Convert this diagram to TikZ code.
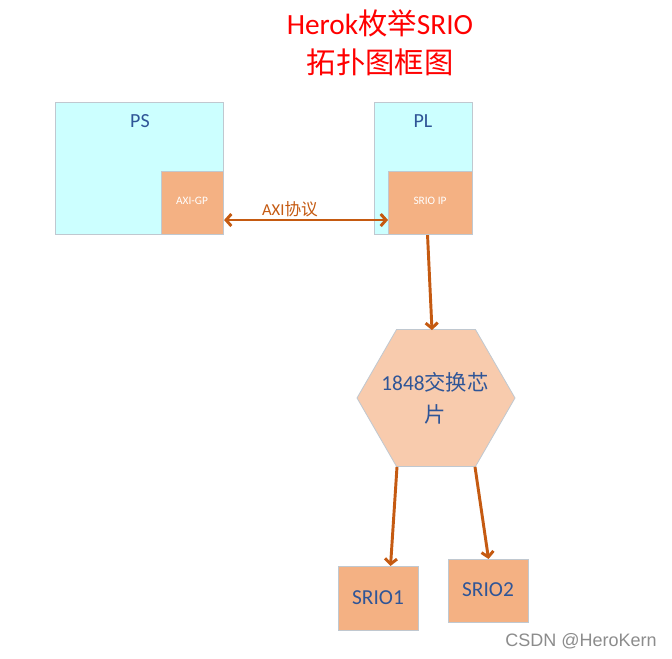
\documentclass[tikz,border=0pt]{standalone}
\usepackage{fontspec}
\setmainfont{Carlito}
\newfontfamily\cjk{Noto Sans CJK SC}
\newfontfamily\wm{Liberation Sans}
\usetikzlibrary{arrows.meta,calc,shapes.geometric}
\definecolor{cyanfill}{HTML}{CCFFFF}
\definecolor{orangefill}{HTML}{F4B183}
\definecolor{hexfill}{HTML}{F8CBAD}
\definecolor{txtblue}{HTML}{2F5597}
\definecolor{arrowc}{HTML}{C55A11}
\definecolor{boxline}{HTML}{C0C8D0}
\tikzset{
  outerbox/.style={draw=boxline, line width=0.8pt, fill=cyanfill, anchor=north west, inner sep=0pt},
  ipbox/.style={draw=boxline, line width=0.8pt, fill=orangefill, anchor=north west, inner sep=0pt},
  conn/.style={draw=arrowc, line width=2.2pt, -{Straight Barb[length=4pt,width=9pt,line width=2.2pt]}},
  bconn/.style={draw=arrowc, line width=2.2pt, {Straight Barb[length=4pt,width=9pt,line width=2.2pt]}-{Straight Barb[length=4pt,width=9pt,line width=2.2pt]}},
  bluetxt/.style={text=txtblue, inner sep=0pt},
}
\begin{document}
\begin{tikzpicture}[x=0.75pt,y=-0.75pt]
\useasboundingbox[fill=white] (0,0) rectangle (672,659);
% title
\node[text=red, inner sep=0pt, font=\fontsize{22}{26}\selectfont] (t1) at (380,23) {Herok{\cjk 枚举}SRIO};
\node[text=red, inner sep=0pt, font=\cjk\fontsize{22}{26}\selectfont] (t2) at (380,62) {拓扑图框图};
% PS
\node[outerbox, minimum width=126pt, minimum height=99pt] (ps) at (55,102) {};
\node[bluetxt, font=\fontsize{15}{18}\selectfont] (pslbl) at (140,121) {PS};
\node[ipbox, minimum width=46.5pt, minimum height=47.25pt] (axigp) at (161,171) {};
\node[text=white, inner sep=0pt, font=\fontsize{8.5}{10}\selectfont] (axilbl) at (192,201) {AXI-GP};
% PL
\node[outerbox, minimum width=73.5pt, minimum height=99pt] (pl) at (374,102) {};
\node[bluetxt, font=\fontsize{15}{18}\selectfont] (pllbl) at (423,121) {PL};
\node[ipbox, minimum width=63pt, minimum height=47.25pt] (srioip) at (388,171) {};
\node[text=white, inner sep=0pt, font=\fontsize{8.5}{10}\selectfont] (sriolbl) at (430,201) {SRIO IP};
% AXI link
\draw[bconn] ($(axigp.east)+(0,17)$) coordinate (la) -- ($(srioip.west)+(0,17)$) coordinate (lb);
\node[text=arrowc, inner sep=0pt, font=\fontsize{12.5}{15}\selectfont] (axiproto) at (290,209) {AXI{\cjk 协议}};
% hexagon
\node[regular polygon, regular polygon sides=6, minimum size=118.5pt, inner sep=0pt, draw=boxline, line width=0.6pt, fill=hexfill] (hex) at (436,398) {};
\node[bluetxt, align=center, font=\fontsize{16}{24}\selectfont] (hexlbl) at (435,398) {1848{\cjk 交换芯}\\{\cjk 片}};
% SRIO boxes
\node[ipbox, minimum width=60pt, minimum height=48pt] (s1) at (338,566) {};
\node[bluetxt, font=\fontsize{16}{19}\selectfont] (s1lbl) at (378,598) {SRIO1};
\node[ipbox, minimum width=60pt, minimum height=47.25pt] (s2) at (448,559) {};
\node[bluetxt, font=\fontsize{16}{19}\selectfont] (s2lbl) at (488,590) {SRIO2};
% connectors
\draw[conn] ($(srioip.south)+(-3,0)$) -- ($(hex.north)+(-4,1)$);
\draw[conn] ($(hex.south)+(-39,0)$) -- ($(s1.north)+(12,0)$);
\draw[conn] ($(hex.south)+(39,0)$) -- ($(s2.north)+(0,0)$);
% watermark
\node[text=black!45, inner sep=0pt, font=\wm\fontsize{13.5}{16}\selectfont] (wmk) at (581,641) {CSDN @HeroKern};
\end{tikzpicture}
\end{document}
